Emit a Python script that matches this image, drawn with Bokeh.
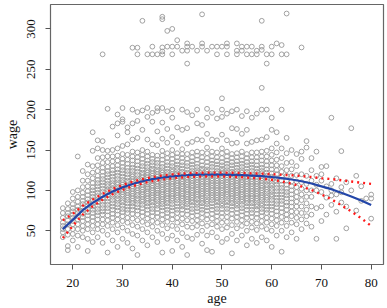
from bokeh.plotting import figure
from bokeh.models import Range1d, FixedTicker
from bokeh.embed import file_html
from bokeh.resources import INLINE

# ---- scatter data: one list of wages per integer age ----
obs_ages = list(range(18, 81))
obs_wages = [
    [42, 48, 52, 56, 60, 66, 72, 78],
    [26, 31, 45, 52, 58, 63, 68, 72, 77, 84],
    [38, 46, 52, 58, 62, 66, 70, 74, 78, 83, 90, 98],
    [30, 44, 52, 58, 64, 68, 72, 76, 80, 86, 92, 100, 142],
    [42, 50, 56, 62, 67, 71, 75, 79, 83, 87, 92, 97, 104, 112, 124],
    [25, 40, 52, 58, 64, 69, 73, 77, 81, 85, 89, 94, 99, 105, 112, 120, 132],
    [36, 48, 56, 62, 67, 72, 76, 80, 84, 88, 92, 96, 100, 104, 109, 115, 122, 130, 149, 172],
    [42, 52, 58, 64, 69, 73, 77, 81, 85, 89, 93, 97, 101, 105, 109, 113, 118, 124, 131, 140, 152, 162],
    [35, 50, 58, 64, 70, 74, 78, 82, 86, 90, 94, 98, 102, 106, 110, 114, 118, 123, 128, 134, 141, 150, 161],
    [23, 45, 56, 63, 69, 74, 78, 82, 86, 90, 94, 98, 101, 105, 108, 112, 116, 120, 124, 129, 135, 142, 149, 201],
    [38, 52, 60, 66, 71, 76, 80, 84, 88, 92, 95, 99, 102, 106, 109, 113, 117, 121, 125, 130, 136, 142, 150, 179],
    [30, 48, 57, 64, 70, 75, 79, 83, 87, 90, 94, 97, 100, 103, 107, 110, 114, 118, 122, 126, 131, 137, 143, 152, 168, 183, 194],
    [40, 54, 62, 68, 73, 77, 81, 85, 88, 92, 95, 98, 101, 104, 107, 110, 113, 117, 121, 125, 129, 134, 139, 145, 155, 185, 188, 202],
    [35, 50, 60, 66, 72, 76, 80, 84, 88, 91, 94, 97, 100, 103, 106, 109, 112, 116, 120, 124, 128, 133, 138, 144, 157, 172, 178],
    [28, 46, 57, 65, 71, 76, 80, 84, 87, 90, 93, 96, 99, 102, 105, 108, 111, 114, 117, 120, 124, 128, 132, 137, 142, 148, 163, 183, 200],
    [20, 44, 55, 63, 70, 75, 79, 83, 87, 90, 94, 97, 100, 103, 106, 109, 112, 115, 119, 123, 127, 131, 136, 141, 147, 165, 186, 197],
    [38, 52, 61, 68, 73, 78, 82, 86, 89, 92, 95, 98, 101, 104, 107, 110, 113, 116, 119, 122, 126, 130, 134, 139, 144, 150, 175, 199],
    [32, 48, 58, 65, 71, 76, 80, 84, 87, 90, 93, 96, 99, 102, 104, 107, 110, 113, 116, 119, 122, 125, 129, 133, 137, 142, 148, 163, 191, 202],
    [42, 55, 62, 68, 73, 77, 81, 85, 88, 91, 94, 97, 100, 103, 106, 109, 112, 115, 118, 121, 124, 127, 131, 135, 139, 144, 157, 185, 196],
    [36, 50, 60, 67, 72, 77, 81, 84, 88, 91, 94, 97, 100, 102, 105, 108, 111, 114, 117, 120, 123, 126, 130, 134, 138, 143, 156, 173, 198, 202],
    [23, 46, 57, 64, 70, 75, 79, 83, 86, 89, 92, 95, 98, 101, 104, 107, 110, 113, 116, 119, 122, 125, 129, 133, 138, 143, 149, 164, 184, 202],
    [40, 53, 61, 67, 72, 76, 80, 84, 87, 90, 93, 96, 99, 102, 105, 108, 111, 114, 117, 120, 123, 127, 131, 135, 140, 146, 159, 176, 198],
    [25, 44, 56, 64, 70, 75, 79, 83, 87, 90, 93, 96, 99, 102, 105, 108, 111, 114, 117, 120, 123, 126, 130, 134, 139, 144, 150, 166, 190, 200],
    [38, 52, 60, 66, 72, 76, 80, 84, 88, 91, 94, 97, 100, 103, 106, 109, 112, 115, 118, 121, 125, 128, 132, 136, 141, 146, 159, 178],
    [30, 47, 58, 65, 71, 76, 80, 83, 87, 90, 93, 96, 99, 102, 105, 108, 111, 114, 117, 120, 123, 127, 131, 135, 140, 145, 151, 175, 200],
    [20, 42, 55, 63, 70, 75, 79, 83, 86, 89, 92, 95, 98, 101, 104, 107, 110, 113, 116, 119, 122, 126, 130, 134, 139, 145, 158, 177, 197],
    [40, 54, 62, 68, 73, 77, 81, 85, 88, 91, 94, 97, 100, 103, 106, 109, 112, 115, 118, 121, 124, 128, 132, 136, 141, 147, 160, 193],
    [45, 56, 63, 69, 74, 78, 82, 85, 89, 92, 95, 98, 101, 104, 107, 110, 113, 116, 119, 122, 125, 129, 133, 138, 143, 148, 163, 183, 200],
    [34, 50, 59, 66, 72, 76, 80, 84, 87, 90, 93, 96, 99, 102, 105, 108, 111, 114, 117, 120, 124, 127, 131, 136, 141, 147, 162, 181],
    [26, 44, 56, 64, 70, 75, 79, 83, 86, 89, 93, 96, 99, 102, 105, 108, 111, 114, 117, 120, 123, 126, 130, 135, 140, 146, 153, 170, 190, 201],
    [24, 48, 58, 65, 71, 76, 80, 84, 88, 91, 94, 97, 100, 103, 106, 109, 112, 115, 118, 121, 125, 129, 133, 137, 142, 148, 163, 196],
    [42, 55, 62, 68, 73, 77, 81, 85, 88, 91, 94, 97, 100, 103, 106, 109, 112, 115, 118, 121, 124, 128, 132, 136, 141, 147, 162, 189],
    [36, 52, 60, 67, 72, 77, 81, 84, 88, 91, 94, 97, 100, 103, 106, 109, 112, 115, 118, 121, 124, 127, 131, 135, 140, 146, 152, 169, 191, 200, 214],
    [40, 54, 61, 67, 73, 77, 81, 85, 88, 92, 95, 98, 101, 104, 107, 110, 113, 116, 119, 122, 125, 129, 133, 137, 142, 148, 162, 195],
    [22, 46, 57, 65, 71, 76, 80, 84, 87, 90, 93, 96, 99, 102, 105, 108, 111, 114, 117, 120, 123, 127, 131, 135, 140, 145, 158, 177, 198],
    [38, 53, 61, 67, 72, 77, 81, 84, 88, 91, 94, 97, 100, 103, 106, 109, 112, 115, 118, 121, 124, 128, 132, 136, 141, 146, 159, 176, 200],
    [44, 56, 63, 69, 74, 78, 82, 86, 89, 92, 95, 98, 101, 104, 107, 110, 113, 116, 119, 122, 125, 129, 133, 137, 142, 148, 170, 192],
    [32, 50, 59, 66, 71, 76, 80, 84, 87, 90, 93, 96, 99, 102, 105, 108, 111, 114, 117, 120, 123, 127, 131, 135, 140, 145, 158, 175, 198],
    [40, 54, 61, 67, 72, 76, 80, 84, 87, 90, 93, 96, 99, 102, 105, 108, 111, 114, 117, 120, 124, 128, 132, 136, 141, 147, 160, 190],
    [35, 51, 59, 66, 71, 76, 80, 83, 87, 90, 93, 96, 99, 102, 105, 108, 111, 114, 117, 120, 123, 127, 131, 136, 141, 147, 162, 195],
    [42, 55, 62, 68, 73, 77, 81, 84, 88, 91, 94, 97, 100, 103, 106, 109, 112, 115, 118, 121, 124, 128, 132, 137, 142, 148, 163, 200, 227],
    [38, 52, 60, 66, 72, 76, 80, 84, 88, 91, 94, 98, 101, 104, 107, 111, 114, 118, 122, 126, 131, 136, 142, 149, 166, 200],
    [30, 50, 58, 65, 71, 76, 80, 84, 88, 92, 95, 99, 102, 106, 109, 113, 117, 121, 126, 131, 137, 144, 152, 175, 190],
    [44, 56, 63, 69, 74, 79, 83, 87, 91, 95, 99, 103, 107, 111, 115, 120, 125, 131, 138, 147, 158, 172],
    [24, 50, 60, 67, 73, 78, 83, 87, 91, 95, 99, 103, 107, 112, 117, 123, 130, 140, 152, 200],
    [42, 56, 64, 70, 76, 81, 85, 90, 94, 98, 102, 107, 112, 118, 125, 134, 146, 165],
    [48, 60, 68, 74, 80, 85, 90, 95, 100, 105, 111, 118, 126, 135, 150],
    [40, 58, 66, 73, 80, 86, 92, 98, 104, 111, 119, 130, 145],
    [52, 64, 72, 80, 88, 95, 102, 110, 120, 139, 148],
    [59, 68, 76, 84, 92, 100, 108, 118, 153, 161],
    [55, 70, 80, 92, 100, 112, 125, 140],
    [40, 78, 100, 107, 118, 148],
    [62, 80, 98, 112, 120, 129],
    [70, 91, 105, 130],
    [82, 93.5, 100, 108, 190],
    [40, 73.6, 95, 115],
    [85, 97.6, 104, 148.6],
    [53, 80, 110],
    [100, 177],
    [75, 118],
    [87, 105],
    [90],
    [65, 90, 94.8],
]

# high earners cluster
top_ages = [26, 32, 33, 33, 34, 35, 36, 37, 38, 36,
            38, 38, 38, 38, 39, 40, 39, 40, 41, 40,
            41, 42, 43, 43, 43, 44, 43, 45, 46, 46,
            46, 47, 48, 49, 49, 50, 51, 51, 51, 53,
            53, 53, 54, 54, 55, 55, 56, 56, 57, 57,
            58, 58, 58, 59, 60, 59, 60, 61, 62, 62,
            63, 63, 66]
top_wages = [268.5, 276.7, 276.7, 268.5, 310, 268.5, 268.5, 268.5, 268.5, 278,
             277, 272, 315, 312, 297.5, 300, 278, 278, 278, 268.5,
             286, 273, 282, 278, 273, 278, 257, 273, 318, 282,
             278, 273, 278, 278, 268.5, 278, 282, 278, 268.5, 282,
             273, 268.5, 278, 273, 278, 268.5, 278, 268.5, 273, 268.5,
             310, 278, 274, 268.5, 268.5, 257, 278, 282, 280, 268.5,
             268.5, 319, 277]

# fitted curve and +/- 2 SE bands
fit_age = [18, 20, 22, 24, 26, 28, 30, 32, 34, 36, 38, 40, 42, 44, 46, 48,
           50, 52, 54, 56, 58, 60, 62, 64, 66, 68, 70, 72, 74, 76, 78, 80]
fit_wage = [52.0, 63.5, 75.4, 84.5, 92.1, 98.5, 103.7, 107.9, 111.3, 113.9, 115.9,
            117.4, 118.4, 119.1, 119.5, 119.6, 119.6, 119.3, 118.9, 118.3, 117.6,
            116.6, 115.2, 113.5, 111.3, 108.5, 105.0, 101.5, 97.0, 92.5, 87.5, 82.0]
band_upper = [63.0, 71.0, 80.9, 88.7, 95.7, 101.8, 106.7, 110.7, 113.9, 116.4, 118.3,
              119.8, 120.8, 121.5, 121.9, 122.0, 122.0, 121.8, 121.5, 121.1, 120.7,
              120.1, 119.4, 118.7, 117.8, 116.5, 115.0, 114.0, 112.5, 111.0, 109.5, 108.0]
band_lower = [41.0, 56.0, 69.9, 80.3, 88.5, 95.2, 100.7, 105.1, 108.7, 111.4, 113.5,
              115.0, 116.0, 116.7, 117.1, 117.2, 117.2, 116.8, 116.3, 115.5, 114.5,
              113.1, 111.0, 108.3, 104.8, 100.5, 95.0, 89.0, 81.5, 74.0, 65.5, 56.0]

x_ticks = [20, 30, 40, 50, 60, 70, 80]
y_ticks = [50, 100, 150, 200, 250, 300]

# flatten scatter
pts_x, pts_y = [], []
for a, ws in zip(obs_ages, obs_wages):
    for w in ws:
        pts_x.append(a)
        pts_y.append(w)
pts_x += top_ages
pts_y += top_wages

FONT = "Liberation Serif, Times New Roman, serif"

p = figure(width=387, height=308, x_range=Range1d(15.52, 82.48),
           y_range=Range1d(8.2, 330.2), output_backend="svg",
           toolbar_location=None, min_border_left=50, min_border_right=4,
           min_border_top=4, min_border_bottom=44)
p.background_fill_color = "white"
p.border_fill_color = "white"
p.outline_line_color = "#666666"
p.outline_line_width = 1.2
p.xgrid.visible = False
p.ygrid.visible = False

p.scatter(pts_x, pts_y, marker="circle", size=4.8, fill_color=None,
          line_color="#9c9c9c", line_width=0.95)

p.line(fit_age, fit_wage, line_color="#2346a8", line_width=2.2)
p.line(fit_age, band_upper, line_color="#ff1a1a", line_width=2.4, line_dash="2 4")
p.line(fit_age, band_lower, line_color="#ff1a1a", line_width=2.4, line_dash="2 4")

for ax in (p.xaxis[0], p.yaxis[0]):
    ax.axis_line_color = None
    ax.major_tick_line_color = "#555555"
    ax.major_tick_out = 5
    ax.major_tick_in = 0
    ax.minor_tick_line_color = None
    ax.major_label_text_font = FONT
    ax.major_label_text_font_size = "13px"
    ax.major_label_text_color = "#111111"
    ax.axis_label_text_font = FONT
    ax.axis_label_text_font_size = "14px"
    ax.axis_label_text_font_style = "normal"
    ax.axis_label_text_color = "#111111"

p.xaxis.ticker = FixedTicker(ticks=x_ticks)
p.yaxis.ticker = FixedTicker(ticks=y_ticks)
p.xaxis.axis_label = "age"
p.yaxis.axis_label = "wage"
p.xaxis.major_label_standoff = 9
p.xaxis.axis_label_standoff = 1
p.yaxis.major_label_orientation = "vertical"
p.yaxis.major_label_standoff = 10
p.yaxis.axis_label_standoff = 5

open("out.html", "w").write(file_html(p, INLINE))
